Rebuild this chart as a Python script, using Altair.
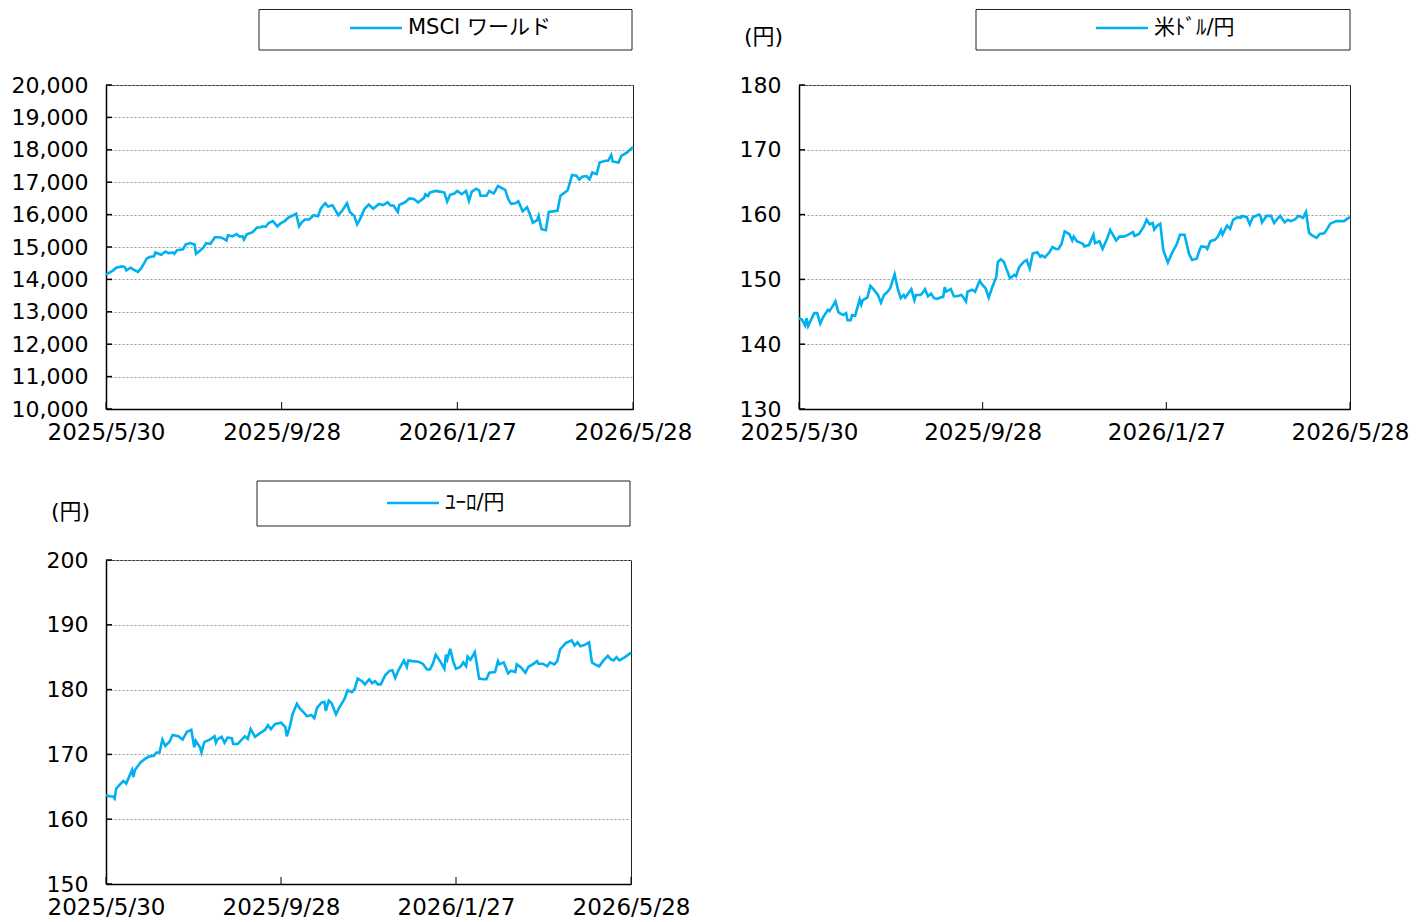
import altair as alt
import pandas as pd

FONT = "DejaVu Sans, Noto Sans CJK JP"
LINE_COLOR = "#00B0F0"
START = "2025-05-30"
TICK_DATES = ["2025-05-30", "2025-09-28", "2026-01-27", "2026-05-28"]

# ---- MSCI World (days since 2025/5/30, index level) ----
msci_days = [0, 5, 7, 11, 13, 14, 17, 19, 22, 24,
             26, 28, 30, 33, 34, 38, 41, 43, 46, 47,
             49, 53, 55, 58, 61, 62, 65, 67, 69, 72,
             75, 78, 80, 83, 84, 87, 90, 92, 94, 95,
             97, 101, 104, 106, 108, 110, 112, 115, 118, 120,
             123, 126, 129, 131, 133, 135, 137, 140, 143, 146,
             148, 151, 153, 156, 160, 163, 166, 168, 171, 173,
             175, 178, 181, 184, 188, 191, 194, 196, 198, 201,
             202, 206, 209, 212, 215, 219, 220, 222, 223, 227,
             230, 233, 235, 237, 240, 242, 245, 248, 250, 252,
             255, 257, 258, 262, 264, 267, 270, 273, 275, 277,
             279, 282, 284, 287, 290, 292, 294, 297, 298, 300,
             303, 305, 308, 311, 313, 316, 318, 321, 324, 326,
             328, 331, 333, 335, 338, 340, 344, 346, 348, 349,
             353, 355, 359, 363]
msci_vals = [14150, 14280, 14360, 14400, 14380, 14280, 14360, 14300, 14230, 14330,
             14480, 14640, 14690, 14710, 14830, 14760, 14860, 14810, 14830, 14790,
             14900, 14930, 15080, 15120, 15080, 14790, 14900, 14980, 15120, 15100,
             15300, 15300, 15280, 15200, 15360, 15330, 15400, 15320, 15330, 15230,
             15390, 15460, 15600, 15600, 15640, 15620, 15740, 15800, 15640, 15720,
             15800, 15920, 15980, 16030, 15640, 15770, 15850, 15850, 15980, 15950,
             16190, 16350, 16250, 16290, 15980, 16140, 16350, 16080, 15960, 15700,
             15860, 16170, 16310, 16180, 16330, 16290, 16380, 16280, 16280, 16080,
             16300, 16380, 16500, 16480, 16380, 16510, 16630, 16580, 16680, 16730,
             16710, 16680, 16400, 16610, 16650, 16730, 16630, 16730, 16420, 16710,
             16800, 16750, 16580, 16580, 16730, 16650, 16880, 16810, 16760, 16480,
             16330, 16350, 16410, 16100, 16230, 16010, 15750, 15830, 15960, 15550,
             15520, 16080, 16100, 16120, 16580, 16680, 16750, 17220, 17200, 17080,
             17170, 17190, 17090, 17300, 17250, 17610, 17660, 17660, 17840, 17640,
             17610, 17810, 17920, 18090]

# ---- USD/JPY ----
usd_days = [0, 2, 4, 5, 6, 8, 10, 12, 14, 16,
            19, 20, 22, 24, 26, 29, 31, 32, 34, 35,
            37, 40, 41, 42, 45, 47, 49, 52, 54, 56,
            58, 60, 63, 65, 67, 69, 70, 74, 76, 77,
            80, 81, 83, 85, 87, 89, 91, 93, 95, 96,
            97, 100, 102, 104, 107, 108, 110, 111, 114, 116,
            119, 121, 123, 125, 127, 130, 131, 133, 135, 137,
            139, 142, 143, 145, 148, 150, 152, 154, 157, 159,
            160, 162, 165, 167, 169, 171, 173, 175, 178, 180,
            181, 183, 187, 188, 191, 194, 195, 198, 200, 203,
            205, 209, 211, 214, 217, 220, 221, 224, 227, 229,
            231, 233, 234, 236, 238, 240, 243, 246, 249, 251,
            254, 257, 259, 262, 264, 265, 268, 269, 271, 274,
            276, 278, 279, 282, 284, 286, 289, 291, 292, 295,
            297, 299, 303, 304, 305, 308, 311, 313, 315, 317,
            320, 322, 324, 327, 329, 332, 334, 336, 338, 341,
            343, 346, 348, 350, 354, 357, 359, 362, 363]
usd_vals = [144.0, 143.8, 142.9, 144.0, 142.8, 143.8, 144.8, 144.8, 143.2, 144.2,
            145.3, 145.1, 145.8, 146.6, 144.9, 144.5, 144.8, 143.7, 143.7, 144.5,
            144.4, 146.9, 146.1, 146.8, 147.2, 149.0, 148.5, 147.6, 146.4, 147.6,
            148.0, 148.6, 150.8, 148.6, 147.1, 147.6, 147.2, 148.5, 146.8, 147.6,
            147.6, 147.8, 148.5, 147.4, 147.8, 147.1, 147.0, 147.2, 147.3, 148.8,
            148.1, 148.5, 147.4, 147.4, 147.6, 147.3, 146.6, 148.1, 148.4, 148.1,
            149.8, 149.1, 148.6, 147.2, 148.6, 150.4, 152.7, 153.1, 152.7, 151.4,
            150.2, 150.7, 150.5, 151.9, 152.7, 153.0, 151.7, 154.0, 154.2, 153.5,
            153.7, 153.4, 154.2, 155.0, 154.7, 154.7, 155.5, 157.4, 157.0, 156.0,
            156.6, 155.9, 155.5, 155.1, 155.3, 156.9, 155.6, 155.9, 154.7, 156.3,
            157.6, 156.0, 156.6, 156.6, 156.9, 157.3, 156.7, 157.0, 158.1, 159.2,
            158.5, 158.7, 157.7, 158.3, 158.6, 154.5, 152.6, 154.2, 155.5, 156.9,
            156.9, 153.9, 153.0, 153.2, 154.6, 155.1, 155.0, 154.7, 155.9, 156.1,
            156.6, 157.6, 156.9, 158.3, 157.8, 159.2, 159.6, 159.5, 159.8, 159.6,
            158.5, 159.6, 160.0, 159.8, 158.8, 159.8, 159.8, 158.7, 159.3, 159.8,
            158.8, 159.2, 159.0, 159.3, 159.8, 159.5, 160.4, 157.2, 156.8, 156.4,
            157.0, 157.1, 157.8, 158.6, 159.0, 159.0, 159.0, 159.5, 159.6]

# ---- EUR/JPY ----
eur_days = [0, 3, 5, 6, 7, 9, 12, 14, 18, 19,
            20, 24, 27, 30, 33, 35, 37, 39, 41, 44,
            46, 50, 53, 56, 59, 61, 62, 65, 66, 68,
            72, 75, 76, 77, 80, 82, 84, 87, 88, 91,
            96, 98, 100, 103, 106, 110, 112, 114, 117, 121,
            124, 125, 127, 129, 132, 134, 137, 139, 142, 144,
            146, 149, 151, 152, 154, 156, 159, 161, 165, 167,
            170, 172, 174, 177, 179, 182, 184, 186, 188, 190,
            193, 196, 198, 200, 202, 206, 208, 209, 212, 216,
            219, 222, 224, 226, 228, 231, 234, 235, 236, 238,
            240, 242, 245, 247, 249, 250, 252, 255, 258, 261,
            263, 265, 269, 271, 272, 275, 278, 280, 283, 284,
            287, 290, 292, 295, 298, 299, 302, 305, 307, 310,
            312, 314, 318, 322, 324, 326, 328, 331, 334, 336,
            338, 341, 344, 347, 349, 351, 353, 355, 358, 360,
            363]
eur_vals = [163.7, 163.5, 163.5, 163.2, 164.7, 165.2, 165.9, 165.5, 167.6, 166.5,
            167.6, 168.8, 169.3, 169.7, 169.8, 170.3, 170.3, 172.3, 171.3, 172.0,
            173.0, 172.8, 172.3, 173.5, 173.8, 171.1, 172.1, 171.1, 170.3, 171.9,
            172.3, 172.8, 171.8, 172.3, 172.7, 171.8, 172.6, 172.5, 171.6, 171.6,
            172.8, 172.4, 173.9, 172.7, 173.2, 173.8, 174.5, 173.9, 174.7, 174.9,
            174.2, 172.8, 174.2, 176.2, 177.8, 177.1, 176.4, 175.9, 176.1, 175.6,
            177.2, 178.0, 178.1, 176.7, 178.3, 177.9, 176.2, 177.1, 178.6, 179.9,
            179.6, 180.1, 181.7, 181.3, 180.8, 181.6, 181.0, 181.3, 180.8, 180.8,
            182.2, 182.9, 183.0, 181.8, 182.9, 184.5, 183.5, 184.5, 184.4, 184.3,
            184.0, 183.1, 183.1, 184.0, 185.4, 184.4, 183.2, 185.4, 184.7, 186.3,
            184.4, 183.2, 183.5, 184.2, 183.6, 185.1, 184.6, 185.8, 181.7, 181.6,
            181.6, 182.6, 182.7, 184.4, 183.9, 184.2, 182.5, 182.9, 182.7, 183.9,
            183.4, 182.6, 183.5, 183.9, 184.4, 184.0, 184.0, 183.6, 184.2, 183.9,
            184.4, 186.2, 187.2, 187.6, 186.8, 187.3, 186.7, 186.9, 187.3, 184.2,
            183.9, 183.6, 184.5, 185.2, 184.7, 184.5, 185.0, 184.5, 184.9, 185.2,
            185.7]

assert len(msci_days) == len(msci_vals)
assert len(usd_days) == len(usd_vals)
assert len(eur_days) == len(eur_vals)


def make_df(days, vals):
    d = pd.Timestamp(START) + pd.to_timedelta(days, unit="D")
    return pd.DataFrame({"date": d.strftime("%Y-%m-%d"), "value": vals})


def dt(s):
    y, m, d = (int(p) for p in s.split("-"))
    return alt.DateTime(year=y, month=m, date=d, utc=True)


def panel(df, label, ymin, ymax, ystep, yfmt, w, h, box, sample_x, text_x, mid_y, unit=None):
    yticks = list(range(ymin, ymax + 1, ystep))
    x_enc = alt.X(
        "date:T",
        scale=alt.Scale(type="utc", domain=[dt(TICK_DATES[0]), dt(TICK_DATES[-1])]),
        axis=alt.Axis(
            values=[dt(s) for s in TICK_DATES],
            labelExpr="utcFormat(datum.value, '%Y/%-m/%-d')",
            title=None, grid=False, tickSize=0, labelPadding=12,
            labelFontSize=23, labelFlush=False, labelOverlap=False,
        ),
    )
    y_enc = alt.Y(
        "value:Q",
        scale=alt.Scale(domain=[ymin, ymax], nice=False, zero=False),
        axis=alt.Axis(
            values=yticks, format=yfmt, title=None, grid=True,
            gridDash=[2, 2], gridColor="#9a9a9a", gridWidth=1,
            tickSize=0, labelPadding=18, labelFontSize=22,
        ),
    )
    line = alt.Chart(df).mark_line(color=LINE_COLOR, strokeWidth=2.6).encode(x=x_enc, y=y_enc)
    xt = alt.Chart(pd.DataFrame({"date": TICK_DATES})).mark_rule(color="black", strokeWidth=1).encode(
        x=x_enc, y=alt.value(h - 7), y2=alt.value(h))
    yt = alt.Chart(pd.DataFrame({"value": yticks})).mark_rule(color="black", strokeWidth=1.5).encode(
        y=y_enc, x=alt.value(0), x2=alt.value(6))
    one = pd.DataFrame({"t": [label]})
    rect = alt.Chart(one).mark_rect(fill="white", stroke="#222", strokeWidth=1).encode(
        x=alt.value(box[0]), x2=alt.value(box[1]), y=alt.value(box[2]), y2=alt.value(box[3]))
    samp = alt.Chart(one).mark_rule(color=LINE_COLOR, strokeWidth=2.6).encode(
        x=alt.value(sample_x[0]), x2=alt.value(sample_x[1]), y=alt.value(mid_y))
    txt = alt.Chart(one).mark_text(align="left", baseline="middle", font=FONT, fontSize=21, color="black").encode(
        x=alt.value(text_x), y=alt.value(mid_y), text="t:N")
    layers = [line, xt, yt, rect, samp, txt]
    if unit:
        u = alt.Chart(pd.DataFrame({"u": [unit]})).mark_text(
            align="left", baseline="middle", font=FONT, fontSize=22, color="black").encode(
            x=alt.value(-55), y=alt.value(-48), text="u:N")
        layers.append(u)
    return alt.layer(*layers).properties(width=w, height=h)


p1 = panel(make_df(msci_days, msci_vals), "MSCI ワールド", 10000, 20000, 1000, ",.0f",
           527, 324, (153, 526, -75.5, -35), (244, 296), 302, -57)
p2 = panel(make_df(usd_days, usd_vals), "米ﾄﾞﾙ/円", 130, 180, 10, "d",
           551, 324, (177, 551, -75.5, -35), (297, 349), 355, -57, unit="(円)")
p3 = panel(make_df(eur_days, eur_vals), "ﾕｰﾛ/円", 150, 200, 10, "d",
           525, 324, (151, 524, -79, -34), (281, 333), 339, -57, unit="(円)")

chart = alt.concat(p1, p2, p3, columns=2, spacing={"row": 35, "column": 45}, align="each").properties(
    padding={"left": 2, "top": 0, "right": 0, "bottom": 0}
).configure(font=FONT).configure_view(
    stroke="#222", strokeWidth=1
).configure_axis(
    labelFont="DejaVu Sans", labelColor="black",
    domainColor="black", domainWidth=1.5,
)

chart.save("out.html", embed_options={"renderer": "svg", "actions": False})
